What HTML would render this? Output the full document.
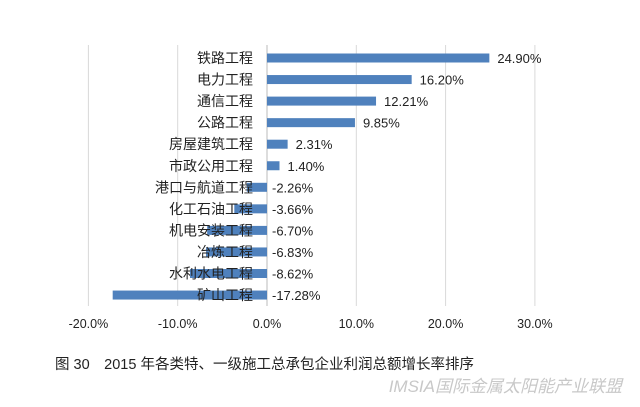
<!DOCTYPE html>
<html><head><meta charset="utf-8"><style>
body{margin:0;background:#fff;width:640px;height:402px;overflow:hidden;font-family:"Liberation Sans","Noto Sans CJK SC",sans-serif;}
</style></head><body>
<svg id="chart" width="640" height="402" xmlns="http://www.w3.org/2000/svg" font-family="Liberation Sans, Noto Sans CJK SC, sans-serif">
<g id="grid"></g><g id="bars"></g><g id="labels"></g>
<text x="55" y="369" font-size="14.5" fill="#222">图 30　2015 年各类特、一级施工总承包企业利润总额增长率排序</text>
<text x="622" y="392" font-size="17" fill="#c8c8c8" text-anchor="end" font-style="italic">IMSIA国际金属太阳能产业联盟</text>
</svg>
<script>
const categories=["铁路工程","电力工程","通信工程","公路工程","房屋建筑工程","市政公用工程","港口与航道工程","化工石油工程","机电安装工程","冶炼工程","水利水电工程","矿山工程"];
const values=[24.90,16.20,12.21,9.85,2.31,1.40,-2.26,-3.66,-6.70,-6.83,-8.62,-17.28];
const ticks=[-20,-10,0,10,20,30];
const NS="http://www.w3.org/2000/svg";
const x=v=>267+v*8.93;
const y=i=>58+i*21.55;
function mk(t,a,p,txt){const e=document.createElementNS(NS,t);for(const k in a)e.setAttribute(k,a[k]);if(txt!==undefined)e.textContent=txt;document.getElementById(p).appendChild(e);return e;}
ticks.forEach(t=>{
 const l=mk('line',{x1:x(t),x2:x(t),y1:45,y2:306,stroke:t===0?'#bbb':'#d9d9d9','stroke-width':1},'grid');
 
 
 const tx=mk('text',{x:x(t),y:328,'font-size':12.5,'text-anchor':'middle',fill:'#222'},'labels',t.toFixed(1)+'%');
 
 
});
values.forEach((v,i)=>{
 const r=mk('rect',{x:Math.min(x(0),x(v)),y:y(i)-4.5,width:Math.abs(x(v)-x(0)),height:9,fill:'#4f81bd'},'bars');
 
 
 const c=mk('text',{x:253,y:y(i)+5,'font-size':14,'text-anchor':'end',fill:'#222'},'labels',categories[i]);
 
 
 const lx=v>=0?x(v)+8:x(0)+5;
 const vl=mk('text',{x:lx,y:y(i)+5,'font-size':13,fill:'#222'},'labels',v.toFixed(2)+'%');
 
 
});
</script>
</body></html>
